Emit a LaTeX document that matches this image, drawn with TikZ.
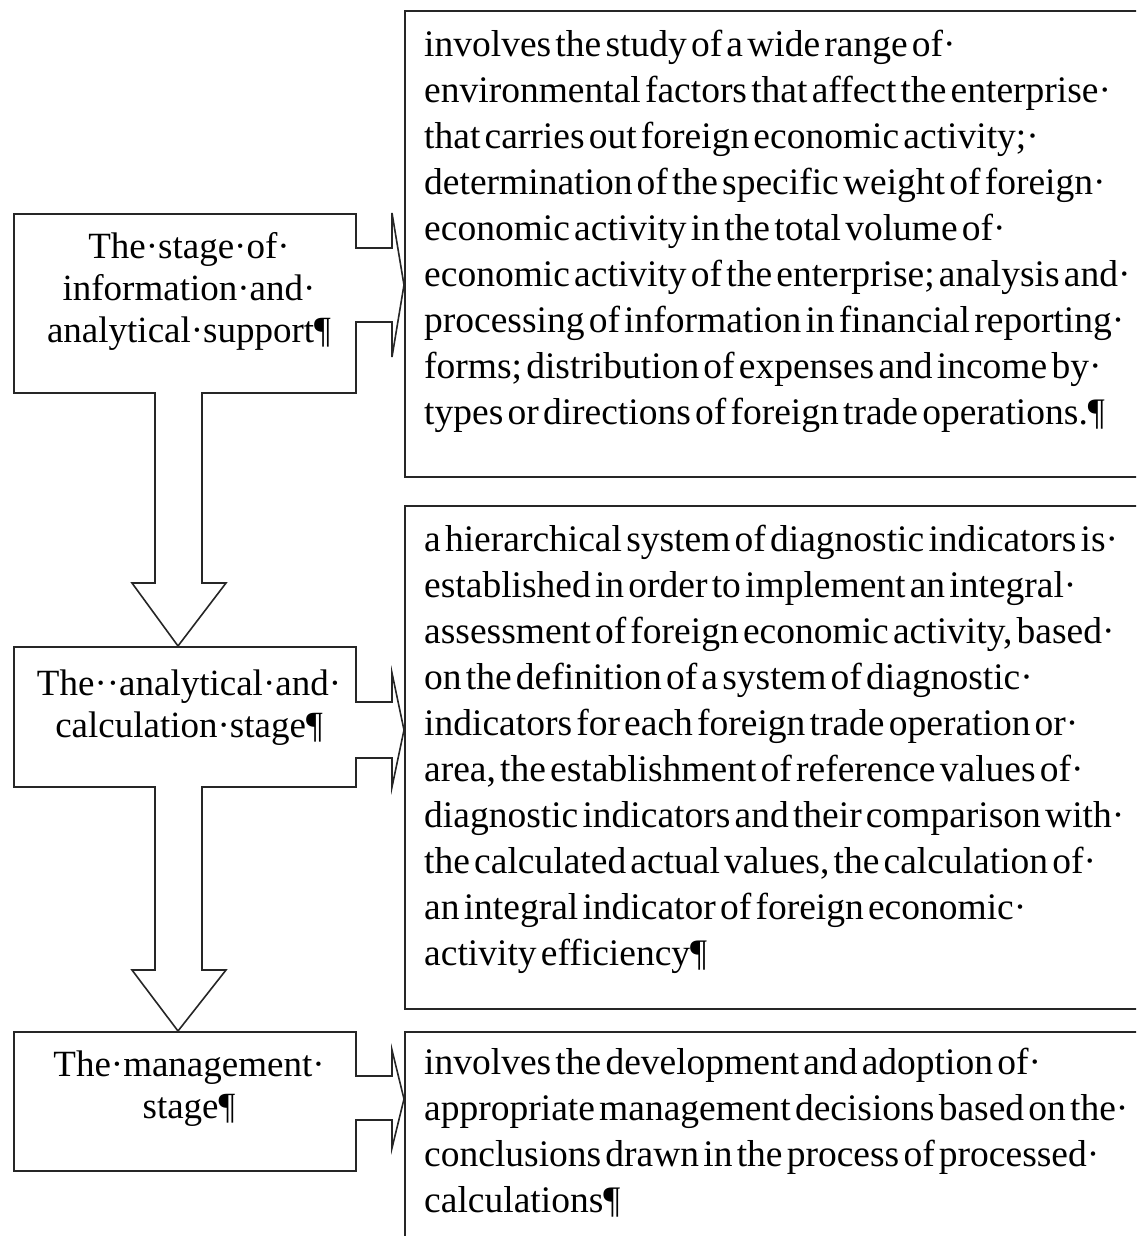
\documentclass[tikz,border=0pt]{standalone}
\usepackage{fontspec}
\setmainfont{Liberation Serif}
\newfontfamily\rightfont[WordSpace=0.45]{Liberation Serif}
\usetikzlibrary{calc}
\begin{document}
\begin{tikzpicture}[x=1pt,y=-1pt,
  box/.style={draw=black!85, line width=1.6pt, inner sep=0pt, anchor=north west},
  lefttext/.style={align=center, inner sep=0pt, anchor=base, font=\fontsize{37}{42}\selectfont},
  righttext/.style={align=left, inner sep=0pt, anchor=base west, font=\rightfont\fontsize{37.5}{46}\selectfont},
  blockarrow/.style={draw=black!85, line width=1.6pt, fill=white, line join=miter}]
\useasboundingbox (0,0) rectangle (1136,1236);
\clip (0,0) rectangle (1136,1236);
% left boxes
\node[box, minimum width=342pt, minimum height=179pt] (l1) at (13,213) {};
\node[box, minimum width=342pt, minimum height=140pt] (l2) at (13,646) {};
\node[box, minimum width=342pt, minimum height=139pt] (l3) at (13,1031) {};
% right boxes
\node[box, minimum width=760pt, minimum height=466pt] (r1) at (404,10) {};
\node[box, minimum width=760pt, minimum height=503pt] (r2) at (404,505) {};
\node[box, minimum width=760pt, minimum height=260pt] (r3) at (404,1031) {};
% left texts (anchor = baseline of last line)
\node[lefttext] (t1) at (189,342) {The·stage·of·\\information·and·\\analytical·support¶};
\node[lefttext] (t2) at (189,737) {The··analytical·and·\\calculation·stage¶};
\node[lefttext] (t3) at (189,1118) {The·management·\\stage¶};
% right texts (anchor = baseline of last line)
\node[righttext] (s1) at (424,424) {involves the study of a wide range of·\\
environmental factors that affect the enterprise·\\
that carries out foreign economic activity;·\\
determination of the specific weight of foreign·\\
economic activity in the total volume of·\\
economic activity of the enterprise; analysis and·\\
processing of information in financial reporting·\\
forms; distribution of expenses and income by·\\
types or directions of foreign trade operations.¶};
\node[righttext] (s2) at (424,965) {a hierarchical system of diagnostic indicators is·\\
established in order to implement an integral·\\
assessment of foreign economic activity, based·\\
on the definition of a system of diagnostic·\\
indicators for each foreign trade operation or·\\
area, the establishment of reference values of·\\
diagnostic indicators and their comparison with·\\
the calculated actual values, the calculation of·\\
an integral indicator of foreign economic·\\
activity efficiency¶};
\node[righttext] (s3) at (424,1212) {involves the development and adoption of·\\
appropriate management decisions based on the·\\
conclusions drawn in the process of processed·\\
calculations¶};
% right block arrows
\draw[blockarrow] (355,248) -- (392,248) -- (392,213) -- (404,285) -- (392,357) -- (392,322) -- (355,322);
\draw[blockarrow] (355,702) -- (392,702) -- (392,673) -- (404,730) -- (392,787) -- (392,758) -- (355,758);
\draw[blockarrow] (355,1076) -- (392,1076) -- (392,1050) -- (404,1099) -- (392,1148) -- (392,1120) -- (355,1120);
% down block arrows
\draw[blockarrow] (155,392) -- (155,583) -- (132,583) -- (178,646) -- (226,583) -- (202,583) -- (202,392);
\draw[blockarrow] (155,786) -- (155,970) -- (132,970) -- (178,1031) -- (226,970) -- (202,970) -- (202,786);
\end{tikzpicture}
\end{document}
